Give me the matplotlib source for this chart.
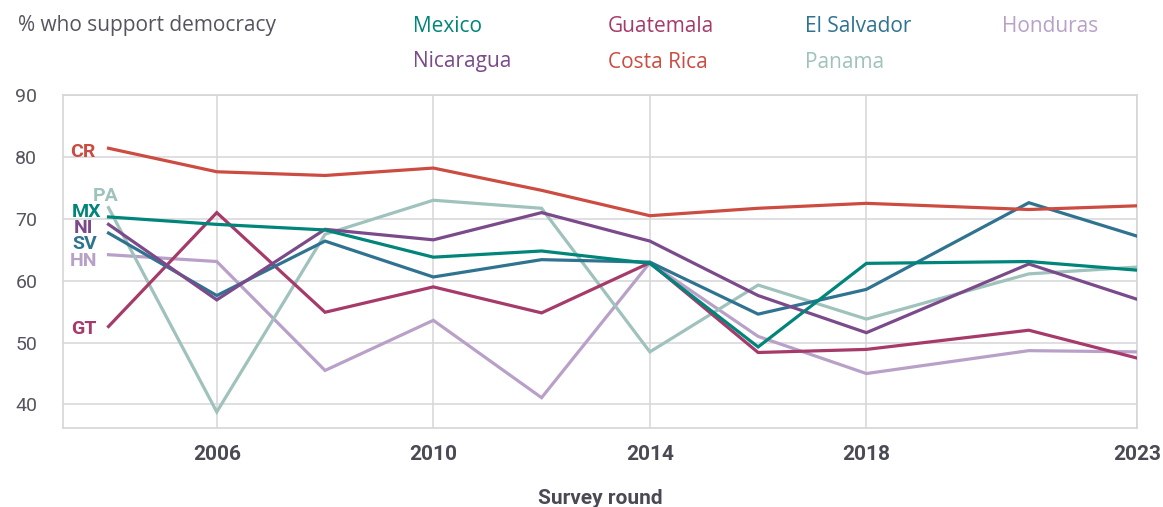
import matplotlib
matplotlib.use("Agg")
import matplotlib.pyplot as plt

years = [2004, 2006, 2008, 2010, 2012, 2014, 2016, 2018, 2021, 2023]
tick_years = [2006, 2010, 2014, 2018, 2023]
y_ticks = [40, 50, 60, 70, 80, 90]

mexico      = [70.3, 69.1, 68.2, 63.8, 64.8, 62.8, 49.3, 62.8, 63.1, 61.7]
guatemala   = [52.6, 71.0, 54.9, 59.0, 54.8, 62.9, 48.4, 48.9, 52.0, 47.5]
el_salvador = [67.7, 57.6, 66.4, 60.6, 63.4, 63.0, 54.6, 58.6, 72.6, 67.2]
honduras    = [64.2, 63.1, 45.5, 53.6, 41.1, 62.9, 51.0, 45.0, 48.7, 48.5]
nicaragua   = [69.1, 56.9, 68.3, 66.6, 71.0, 66.4, 57.6, 51.6, 62.7, 57.0]
costa_rica  = [81.4, 77.6, 77.0, 78.2, 74.6, 70.5, 71.7, 72.5, 71.5, 72.1]
panama      = [71.8, 38.8, 67.5, 73.0, 71.7, 48.5, 59.3, 53.8, 61.1, 62.2]

names = ["Mexico", "Guatemala", "El Salvador", "Honduras", "Nicaragua", "Costa Rica", "Panama"]
codes = ["MX", "GT", "SV", "HN", "NI", "CR", "PA"]
series = [mexico, guatemala, el_salvador, honduras, nicaragua, costa_rica, panama]
colors = ["#00857a", "#a63a6a", "#2f7391", "#b9a0c8", "#7b4a8a", "#cc4c42", "#9fc2bc"]

# draw order (back to front)
order = [3, 6, 1, 2, 4, 0, 5]

fig = plt.figure(figsize=(11.63, 5.07), dpi=100)
ax = fig.add_axes([0.0542, 0.1558, 0.9235, 0.6568])

for i in order:
    ax.plot(years, series[i], color=colors[i], lw=2.3, solid_joinstyle="miter", zorder=3)

ax.set_xlim(2003.16, 2023)
ax.set_ylim(36.2, 90)
ax.set_xticks(tick_years)
ax.set_xticklabels([str(t) for t in tick_years], fontfamily="Roboto", fontweight="bold",
                   fontsize=15, color="#4a4a55")
ax.set_yticks(y_ticks)
ax.set_yticklabels([str(t) for t in y_ticks], fontfamily="Roboto", fontsize=14, color="#555560")
ax.tick_params(axis="both", length=0)
ax.tick_params(axis="x", pad=12)
ax.tick_params(axis="y", pad=18.5)
ax.grid(True, color="#d6d6d9", lw=1.1, zorder=0)
for s in ax.spines.values():
    s.set_color("#d6d6d9")
    s.set_linewidth(1.2)

ax.set_xlabel("Survey round", fontfamily="Roboto", fontweight="bold", fontsize=15,
              color="#4a4a55", labelpad=18)

# left-side country codes (offsets in points)
label_offsets = {"MX": (-4.9, 5.3), "GT": (-8.5, 0), "SV": (-8.1, -6.7), "HN": (-8.1, -2.9),
                 "NI": (-10.9, -0.9), "CR": (-9.7, -1.2), "PA": (-1.8, 9.5)}
for i, code in enumerate(codes):
    dx, dy = label_offsets[code]
    ha = "center" if code == "PA" else "right"
    ax.annotate(code, (years[0], series[i][0]), xytext=(dx, dy), textcoords="offset points",
                ha=ha, va="center_baseline", fontfamily="Roboto", fontweight="bold", fontsize=14,
                color=colors[i], zorder=4, annotation_clip=False)

# header / legend
fig.text(18 / 1163, 1 - 26 / 507, "% who support democracy", fontfamily="Open Sans",
         fontsize=15, color="#555560", va="center", ha="left")
legend_pos = [(413, 26), (608, 26), (805, 26), (1002, 26), (413, 62), (608, 62), (805, 62)]
for i, (px, py) in enumerate(legend_pos):
    fig.text(px / 1163, 1 - py / 507, names[i], fontfamily="Open Sans", fontsize=15,
             color=colors[i], va="center", ha="left")

fig.savefig("out.png", dpi=100)
